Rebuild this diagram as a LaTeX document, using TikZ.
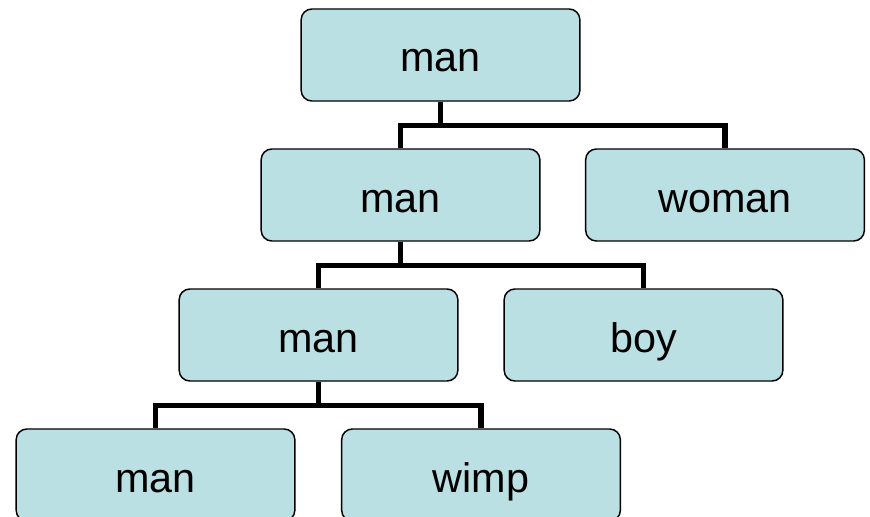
\documentclass[tikz,border=0pt]{standalone}
\usepackage{fontspec}
\setmainfont{Liberation Sans}
\definecolor{boxfill}{HTML}{BBE0E3}
\begin{document}
\begin{tikzpicture}[x=0.75pt, y=-0.75pt]
        % Define styles for nodes and links
        \tikzstyle{word} = [rectangle, rounded corners=8pt, minimum width=209pt, minimum height=69pt, text height=25.5pt, text depth=0pt, text centered, draw=black, line width=1.1pt, fill=boxfill, font=\fontsize{31}{36}\selectfont]
        \tikzstyle{link} = [line width=3.8pt, black]

        \useasboundingbox (0,0) rectangle (870,517);

        \node (root) [word] at (440.5,55) {man};
        \node (man) [word] at (400.5,195) {man};
        \node (woman) [word] at (725,195) {woman};
        \node (mann) [word] at (318.5,335) {man};
        \node (boy) [word] at (643.5,335) {boy};
        \node (leaf) [word] at (155.5,475) {man};
        \node (wimp) [word] at (481,475) {wimp};

        % Links
        \draw [link] (root.south) -- ++(0,24) -| (man.north);
        \draw [link] (root.south) ++(0,24) -| (woman.north);
        \draw [link] (man.south) -- ++(0,24) -| (mann.north);
        \draw [link] (man.south) ++(0,24) -| (boy.north);
        \draw [link] (mann.south) -- ++(0,24) -| (leaf.north);
        \draw [link] (mann.south) ++(0,24) -| (wimp.north);
\end{tikzpicture}
\end{document}
